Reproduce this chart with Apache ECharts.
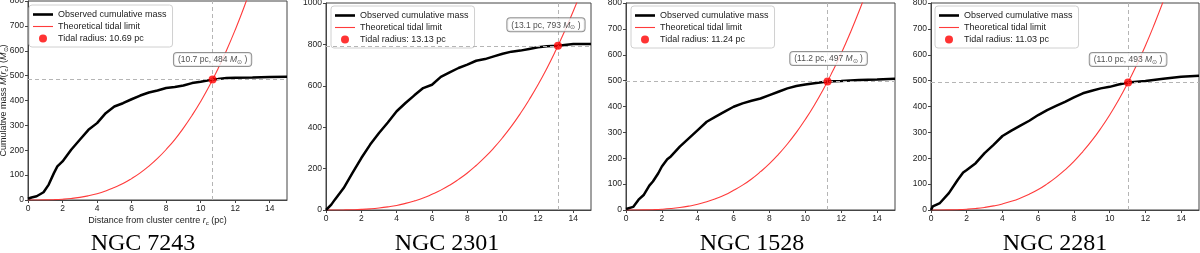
<!DOCTYPE html>
<html>
<head>
<meta charset="utf-8">
<script src="https://cdn.jsdelivr.net/npm/echarts@6/dist/echarts.min.js"></script>
<style>html,body{margin:0;padding:0;background:#fff}#c{width:1200px;height:253px}</style>
</head>
<body>
<div id="c"></div>
<script>
// ---------- data ----------
const clusterNames = ['NGC 7243', 'NGC 2301', 'NGC 1528', 'NGC 2281'];
const tidalRadius = [10.69, 13.13, 11.24, 11.03];
const tidalMass = [484, 793, 497, 493];
const tidalRadiusLabel = ['10.7', '13.1', '11.2', '11.0'];
const yMax = [800, 1000, 800, 800];
const yStep = [100, 200, 100, 100];
const xTicks = [0, 2, 4, 6, 8, 10, 12, 14];

// observed cumulative mass
const r7243 = [0,0.2,0.5,0.9,1.2,1.5,1.7,2,2.5,3,3.5,4,4.5,5,5.5,6,6.5,7,7.5,8,8.5,9,9.5,10,10.69,11,11.5,12,13,14,15];
const m7243 = [5,10,15,31,62,108,135,155,202,242,282,309,349,376,389,405,420,432,440,450,454,460,470,475,484,486,490,491,492,494,495];
const r2301 = [0,0.3,0.5,1,1.5,2,2.5,3,3.5,4,4.5,5,5.5,6,6.5,7,7.5,8,8.5,9,9.5,10,10.5,11,11.5,12,12.5,13.13,14,15];
const m2301 = [0,26,50,106,179,251,316,372,423,477,517,554,589,605,643,665,686,702,721,729,742,755,765,770,778,786,791,793,802,802];
const r1528 = [0,0.4,0.7,1,1.3,1.5,1.8,2,2.3,2.5,3,3.5,4,4.5,5,5.5,6,6.5,7,7.5,8,8.5,9,9.5,10,10.5,11.24,12,13,14,15];
const m1528 = [4,12,40,59,94,110,142,168,196,207,245,277,309,341,361,380,399,412,422,431,444,457,470,479,485,490,497,499,502,504,507];
const r2281 = [0,0.1,0.5,1,1.5,1.8,2,2.5,3,3.5,4,4.5,5,5.5,6,6.5,7,7.5,8,8.5,9,9.5,10,10.5,11.03,12,13,14,15];
const m2281 = [0,14,27,65,117,145,155,181,220,252,286,307,326,345,367,386,402,418,435,451,461,470,476,485,493,499,507,515,519];

// theoretical tidal limit (read every 0.5 pc)
const rTheory = [0,0.5,1,1.5,2,2.5,3,3.5,4,4.5,5,5.5,6,6.5,7,7.5,8,8.5,9,9.5,10,10.5,11,11.5,12,12.5,13,13.5,14,14.5];
const t7243 = [0,0.05,0.4,1.3,3.2,6.2,10.7,17,25,36,50,66,86,109,136,167,203,243,289,340,396,458,527,602,684,773,870];
const t2301 = [0,0.04,0.35,1.2,2.8,5.5,9.5,15,22,32,44,58,76,96,120,148,179,215,255,300,350,405,466,533,605,684,770,862,961,1068];
const t1528 = [0,0.04,0.35,1.2,2.8,5.5,9.5,15,22,32,44,58,76,96,120,148,179,215,255,300,350,405,466,533,605,684,769,861];
const t2281 = [0,0.05,0.37,1.2,2.9,5.7,9.9,15.8,23.5,33.5,46,61,79,101,126,155,188,226,268,315,367,425,489,559,635,718,807];

const obsR = [r7243, r2301, r1528, r2281];
const obsM = [m7243, m2301, m1528, m2281];
const theoM = [t7243, t2301, t1528, t2281];

// ---------- layout ----------
const grids = [
  {left: 28, top: 1, width: 259, height: 199},
  {left: 326, top: 3, width: 265, height: 207},
  {left: 626, top: 3, width: 269, height: 207},
  {left: 931, top: 3, width: 268, height: 207}
];
const legendPos = [{left: 29, top: 5}, {left: 331, top: 6}, {left: 631, top: 6}, {left: 935, top: 6}];
const annOffset = [[0, -20], [-12, -21], [1, -23], [0, -23]];
const titleX = [143, 447, 752, 1055];

const FONT = 'Liberation Sans';
const axisColor = '#444';
const richName = {
  i: {fontStyle: 'italic', fontSize: 9, fontFamily: FONT, color: '#222'},
  sub: {fontSize: 6, fontFamily: FONT, color: '#222', padding: [5, 0, 0, 0]}
};

const chart = echarts.init(document.getElementById('c'), null, {renderer: 'canvas'});
const xAxes = [], yAxes = [], series = [], legends = [], graphics = [];

for (let i = 0; i < 4; i++) {
  xAxes.push({
    type: 'value', gridIndex: i, min: 0, max: 15, interval: 2,
    axisLine: {show: true, lineStyle: {color: axisColor, width: 1}},
    axisTick: {show: true, length: 3, inside: false, lineStyle: {color: axisColor}},
    axisLabel: {fontSize: 8.5, fontFamily: FONT, color: '#222', margin: 4, showMaxLabel: false,
      formatter: v => xTicks.indexOf(v) >= 0 ? String(v) : ''},
    splitLine: {show: false},
    name: i === 0 ? 'Distance from cluster centre {i|r}{sub|c} (pc)' : '',
    nameLocation: 'middle', nameGap: 15, nameMoveOverlap: false,
    nameTextStyle: {fontSize: 9, fontFamily: FONT, color: '#222', rich: richName}
  });
  yAxes.push({
    type: 'value', gridIndex: i, min: 0, max: yMax[i], interval: yStep[i],
    axisLine: {show: true, lineStyle: {color: axisColor, width: 1}},
    axisTick: {show: true, length: 3, inside: false, lineStyle: {color: axisColor}},
    axisLabel: {fontSize: 8.5, fontFamily: FONT, color: '#222', margin: 4, formatter: v => String(v)},
    splitLine: {show: false},
    name: i === 0 ? 'Cumulative mass {i|M}({i|r}{sub|c}) ({i|M}{sub|⊙})' : '',
    nameLocation: 'middle', nameGap: 19, nameRotate: 90, nameMoveOverlap: false,
    nameTextStyle: {fontSize: 9, fontFamily: FONT, color: '#222', rich: richName}
  });

  const obs = obsR[i].map((r, k) => [r, obsM[i][k]]);
  const theo = theoM[i].map((m, k) => [rTheory[k], m]);
  const tidalName = 'Tidal radius: ' + tidalRadius[i].toFixed(2) + ' pc';

  series.push({
    type: 'line', name: 'Observed cumulative mass', xAxisIndex: i, yAxisIndex: i,
    data: obs, symbol: 'none', showSymbol: false,
    lineStyle: {color: '#000', width: 2.5}, itemStyle: {color: '#000'}, z: 3, silent: true
  });
  series.push({
    type: 'line', name: 'Theoretical tidal limit', xAxisIndex: i, yAxisIndex: i,
    data: theo, smooth: true, symbol: 'none', showSymbol: false, clip: true,
    lineStyle: {color: '#ff3b3b', width: 1.1}, itemStyle: {color: '#ff3b3b'}, z: 2, silent: true
  });
  series.push({
    type: 'scatter', name: tidalName, xAxisIndex: i, yAxisIndex: i,
    data: [[tidalRadius[i], tidalMass[i]]], symbolSize: 8,
    itemStyle: {color: '#ff0000'}, z: 6,
    label: {
      show: true, position: 'inside', offset: annOffset[i],
      formatter: '{n|(' + tidalRadiusLabel[i] + ' pc, ' + tidalMass[i] + ' }{m|M}{s|⊙}{n| )}',
      backgroundColor: '#fff', borderColor: '#777', borderWidth: 1, borderRadius: 3,
      padding: [2, 4, 1, 4],
      rich: {
        n: {fontSize: 8.5, fontFamily: FONT, color: '#222'},
        m: {fontSize: 8.5, fontFamily: FONT, color: '#222', fontStyle: 'italic'},
        s: {fontSize: 6, fontFamily: FONT, color: '#222', padding: [4, 0, 0, 0]}
      }
    },
    markLine: {
      silent: true, symbol: 'none', animation: false,
      lineStyle: {color: '#b5b5b5', type: [4, 3], width: 1},
      label: {show: false},
      data: [{xAxis: tidalRadius[i]}, {yAxis: tidalMass[i]}]
    }
  });

  legends.push(Object.assign({
    data: [
      {name: 'Observed cumulative mass', icon: 'path://M0,0H20V2.6H0Z', itemStyle: {color: '#000'}},
      {name: 'Theoretical tidal limit', icon: 'path://M0,0H20V1.1H0Z', itemStyle: {color: '#ff3b3b'}},
      {name: tidalName, icon: 'circle'}
    ],
    orient: 'vertical', itemWidth: 20, itemHeight: 8, itemGap: 3,
    symbolKeepAspect: true,
    padding: [5, 6, 4, 4],
    backgroundColor: 'rgba(255,255,255,0.85)', borderColor: '#d0d0d0', borderWidth: 1, borderRadius: 3,
    textStyle: {fontSize: 9, fontFamily: FONT, color: '#222'},
    selectedMode: false
  }, legendPos[i]));

  graphics.push({
    type: 'text', x: titleX[i], y: 244, silent: true,
    style: {text: clusterNames[i], font: '24px "Liberation Serif"', fill: '#000',
      textAlign: 'center', textVerticalAlign: 'middle'}
  });
}

chart.setOption({
  animation: false,
  backgroundColor: '#fff',
  grid: grids.map(g => Object.assign({show: true, borderColor: axisColor, borderWidth: 1,
    backgroundColor: 'transparent', containLabel: false, outerBoundsMode: 'none'}, g)),
  xAxis: xAxes,
  yAxis: yAxes,
  legend: legends,
  series: series,
  graphic: graphics
});
</script>
</body>
</html>
